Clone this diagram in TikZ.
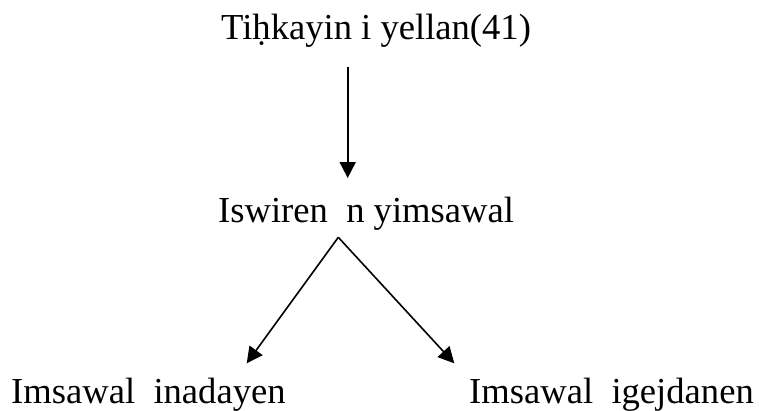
\documentclass[tikz,border=0pt]{standalone}
\usepackage{fontspec}
\setmainfont{Liberation Serif}
\usetikzlibrary{arrows.meta}
\begin{document}
\begin{tikzpicture}[x=1pt,y=-1pt,
  lbl/.style={anchor=base west,inner sep=0pt,font=\fontsize{36.6}{40}\selectfont},
  conn/.style={line width=1.9pt,-{Triangle[length=16pt,width=16pt]}}]
\useasboundingbox (0,0) rectangle (759,410);
\node[lbl] (top) at (221,39.5) {Tiḥkayin i yellan(41)};
\node[lbl] (mid) at (218,222) {Iswiren\ \ n yimsawal};
\node[lbl] (left) at (11,403) {Imsawal\ \ inadayen};
\node[lbl] (right) at (469,403) {Imsawal\ \ igejdanen};
\coordinate (a1) at (347.7,66.5);
\coordinate (a2) at (347.7,178);
\coordinate (apex) at (338.3,237.3);
\coordinate (lt) at (246.7,363.3);
\coordinate (rt) at (454.3,363.3);
\draw[conn] (a1) -- (a2);
\draw[conn,line width=1.6pt] (apex) -- (lt);
\draw[conn,line width=1.6pt] (apex) -- (rt);
\end{tikzpicture}
\end{document}
